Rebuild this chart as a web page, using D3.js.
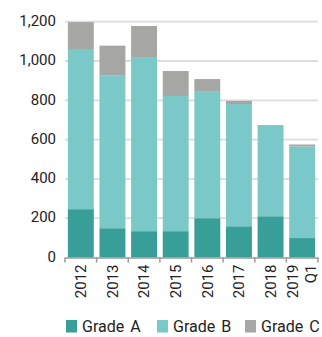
<!DOCTYPE html>
<html>
<head>
<meta charset="utf-8">
<script src="https://cdn.jsdelivr.net/npm/d3@7"></script>
<style>
  html, body { margin: 0; padding: 0; background: #fff; }
  svg { display: block; font-family: Roboto, "Noto Sans", sans-serif; }
</style>
</head>
<body>
<svg id="chart" width="322" height="337"></svg>
<script>
// Loans by grade, per year (2019 covers Q1 only)
const categories = ["2012", "2013", "2014", "2015", "2016", "2017", "2018", "2019\nQ1"];
const gradeA = [246, 149, 134, 134, 200, 159, 210, 99];
const gradeB = [815, 779, 886, 688, 647, 622, 464, 466];
const gradeC = [137, 150, 158, 127, 61, 16, 0, 10];
const seriesNames = ["Grade A", "Grade B", "Grade C"];
const yTicks = [0, 200, 400, 600, 800, 1000, 1200];

const colors = ["#389e98", "#7ac8c7", "#a6a6a5"];

const svg = d3.select("#chart");
const plotLeft = 65, plotRight = 318, plotTop = 21.7, plotBottom = 257.5;

const x = d3.scaleBand().domain(categories).range([plotLeft, plotRight])
  .paddingInner(0.18).paddingOuter(0.09);
const y = d3.scaleLinear().domain([0, 1200]).range([plotBottom, plotTop]);

const rows = categories.map((c, i) => ({
  cat: c, "Grade A": gradeA[i], "Grade B": gradeB[i], "Grade C": gradeC[i]
}));
const stacked = d3.stack().keys(seriesNames)(rows);

// Gridlines
svg.append("g").selectAll("line").data(yTicks.filter(d => d > 0)).join("line")
  .attr("x1", plotLeft).attr("x2", plotRight)
  .attr("y1", d => y(d)).attr("y2", d => y(d))
  .attr("stroke", "#dcdcdc").attr("stroke-width", 1.8);

// Y axis labels
const yAxis = svg.append("g").attr("transform", `translate(${plotLeft},0)`)
  .call(d3.axisLeft(y).tickValues(yTicks).tickSize(0).tickPadding(9)
    .tickFormat(d3.format(",")));
yAxis.select(".domain").remove();
yAxis.selectAll("text").attr("font-size", 15).attr("fill", "#222")
  .attr("font-family", "Roboto, sans-serif").attr("dy", "0.25em");

// Stacked bars
svg.append("g").selectAll("g").data(stacked).join("g")
  .attr("fill", (d, i) => colors[i])
  .selectAll("rect").data(d => d).join("rect")
  .attr("x", d => x(d.data.cat))
  .attr("width", x.bandwidth())
  .attr("y", d => y(d[1]))
  .attr("height", d => y(d[0]) - y(d[1]));

// X axis: baseline with ticks at category boundaries
const axisG = svg.append("g");
axisG.append("line").attr("x1", plotLeft).attr("x2", plotRight)
  .attr("y1", plotBottom + 0.5).attr("y2", plotBottom + 0.5)
  .attr("stroke", "#9a9a9a").attr("stroke-width", 1.5);
const bounds = d3.range(categories.length + 1).map(i => plotLeft + i * x.step());
axisG.selectAll(".tk").data(bounds).join("line").attr("class", "tk")
  .attr("x1", d => d).attr("x2", d => d)
  .attr("y1", plotBottom).attr("y2", plotBottom + 5)
  .attr("stroke", "#9a9a9a").attr("stroke-width", 1.5);

// Rotated category labels
const labels = axisG.selectAll(".lbl").data(categories).join("text").attr("class", "lbl")
  .attr("transform", d => `translate(${x(d) + x.bandwidth() / 2},${plotBottom + 7}) rotate(-90)`)
  .attr("text-anchor", "end")
  .attr("font-size", 15).attr("fill", "#222");
labels.each(function(d) {
  const lines = d.split("\n");
  const t = d3.select(this);
  lines.forEach((ln, i) => {
    t.append("tspan").attr("x", 0)
      .attr("dy", i === 0 ? (0.35 - (lines.length - 1) * 0.6) + "em" : "1.2em")
      .text(ln);
  });
});

// Legend
const legendX = [66, 157, 245];
const legend = svg.append("g").selectAll("g").data(seriesNames).join("g")
  .attr("transform", (d, i) => `translate(${legendX[i]},320)`);
legend.append("rect").attr("width", 11).attr("height", 12.5)
  .attr("fill", (d, i) => colors[i]);
legend.append("text").attr("x", 16).attr("y", 12)
  .attr("font-size", 16).attr("fill", "#222")
  .attr("word-spacing", 2)
  .text(d => d);
</script>
</body>
</html>
